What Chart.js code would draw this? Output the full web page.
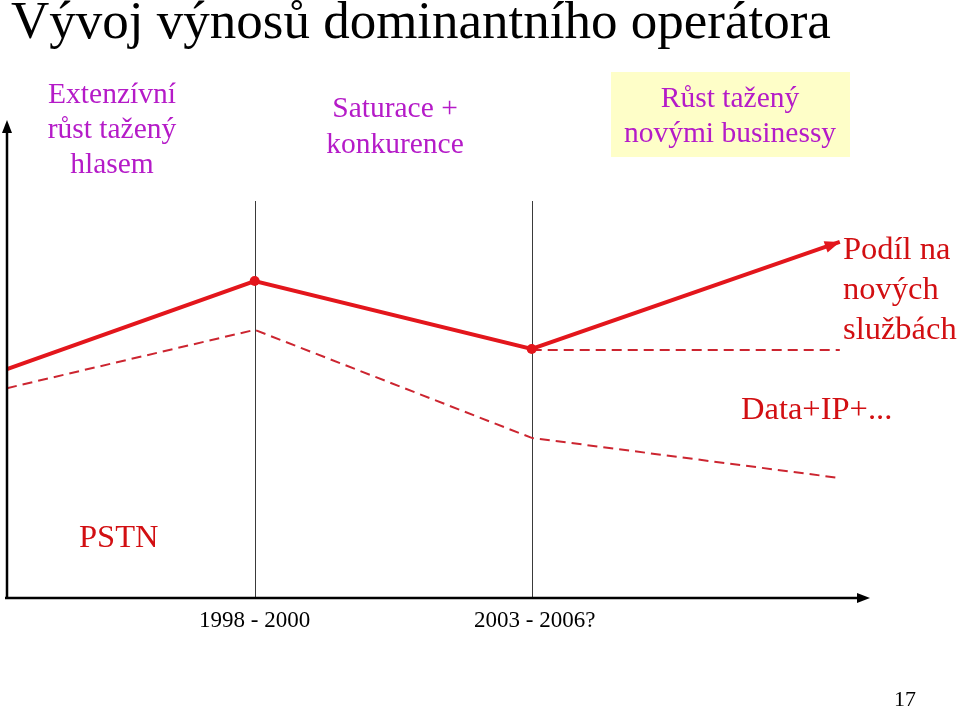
<!DOCTYPE html>
<html>
<head>
<meta charset="utf-8">
<script src="https://cdn.jsdelivr.net/npm/chart.js@4/dist/chart.umd.min.js"></script>
<style>
  html, body { margin: 0; padding: 0; background: #fff; }
  #wrap { position: relative; width: 960px; height: 708px; }
  #chart { position: absolute; left: 0; top: 0; }
</style>
</head>
<body>
<div id="wrap"><canvas id="chart" width="960" height="708"></canvas></div>
<script>
/* Vývoj výnosů dominantního operátora — sketch of revenue phases. */

// position along the time axis (0–100) and revenue index (0–100)
const timeX = [0, 28.7, 60.8, 96.5];
const periodLabels = ["", "1998 - 2000", "2003 - 2006?", ""];
const totalRevenue = [47.9, 66.3, 52.1, 74.5];
const pstnRevenue = [43.9, 56.1, 33.5, 25.1];
const flatRevenue = [null, null, 51.9, 51.9];

const SERIF = '"Liberation Serif", "Times New Roman", serif';
const RED = "#e3161c";
const TEXT_RED = "#d20f12";
const MAGENTA = "#b51bc8";

function pts(values) {
  return values.map((v, i) => ({ x: timeX[i], y: v }));
}

function arrowHead(ctx, x0, y0, x1, y1, len, half) {
  const a = Math.atan2(y1 - y0, x1 - x0);
  ctx.beginPath();
  ctx.moveTo(x1, y1);
  ctx.lineTo(x1 - len * Math.cos(a) + half * Math.sin(a), y1 - len * Math.sin(a) - half * Math.cos(a));
  ctx.lineTo(x1 - len * Math.cos(a) - half * Math.sin(a), y1 - len * Math.sin(a) + half * Math.cos(a));
  ctx.closePath();
  ctx.fill();
}

function textLines(ctx, lines, x, y, step, font, color, align) {
  ctx.font = font;
  ctx.fillStyle = color;
  ctx.textAlign = align;
  ctx.textBaseline = "alphabetic";
  lines.forEach((t, i) => ctx.fillText(t, x, y + i * step));
}

const frame = {
  id: "frame",
  beforeDatasetsDraw(chart) {
    const { ctx, chartArea: a, scales: { x } } = chart;
    ctx.save();
    // yellow note box behind the third phase
    ctx.fillStyle = "#fefec8";
    ctx.fillRect(611, 72, 239, 85);
    // phase separators
    ctx.strokeStyle = "#3a3a3a";
    ctx.lineWidth = 1;
    for (let i = 1; i < periodLabels.length; i++) {
      if (!periodLabels[i]) continue;
      const px = Math.round(x.getPixelForValue(timeX[i])) + 0.5;
      ctx.beginPath();
      ctx.moveTo(px, 201);
      ctx.lineTo(px, a.bottom);
      ctx.stroke();
    }
    ctx.restore();
  },
  afterDatasetsDraw(chart) {
    const { ctx, chartArea: a, scales: { x } } = chart;
    const meta = chart.getDatasetMeta(0).data;
    ctx.save();
    // arrow at end of total revenue line
    ctx.fillStyle = RED;
    const p0 = meta[meta.length - 2], p1 = meta[meta.length - 1];
    arrowHead(ctx, p0.x, p0.y, p1.x, p1.y, 15, 6);

    // axes
    ctx.strokeStyle = "#000";
    ctx.fillStyle = "#000";
    ctx.lineWidth = 2.5;
    ctx.beginPath();
    ctx.moveTo(a.left, a.bottom);
    ctx.lineTo(a.left, a.top + 10);
    ctx.moveTo(a.left - 2, a.bottom);
    ctx.lineTo(a.right - 10, a.bottom);
    ctx.stroke();
    arrowHead(ctx, a.left, a.bottom, a.left, a.top, 13, 5);
    arrowHead(ctx, a.left, a.bottom, a.right, a.bottom, 13, 5);

    // period tick labels
    ctx.font = "23px " + SERIF;
    ctx.fillStyle = "#000";
    ctx.textAlign = "center";
    periodLabels.forEach((l, i) => {
      if (l) ctx.fillText(l, x.getPixelForValue(timeX[i]) + (i === 2 ? 3 : 0), 627);
    });

    // title and notes
    textLines(ctx, ["Vývoj výnosů dominantního operátora"], 11, 38, 0, "53px " + SERIF, "#000", "left");
    textLines(ctx, ["Extenzívní", "růst tažený", "hlasem"], 112, 103, 35, "29.5px " + SERIF, MAGENTA, "center");
    textLines(ctx, ["Saturace +", "konkurence"], 395, 117, 36, "29.5px " + SERIF, MAGENTA, "center");
    textLines(ctx, ["Růst tažený", "novými businessy"], 730, 107, 35, "29.5px " + SERIF, MAGENTA, "center");
    textLines(ctx, ["Podíl na", "nových", "službách"], 843, 259, 40, "32.5px " + SERIF, TEXT_RED, "left");
    textLines(ctx, ["Data+IP+..."], 741, 419, 0, "32.5px " + SERIF, TEXT_RED, "left");
    textLines(ctx, ["PSTN"], 79, 547, 0, "32.5px " + SERIF, TEXT_RED, "left");
    textLines(ctx, ["17"], 905, 706, 0, "22px " + SERIF, "#000", "center");
    ctx.restore();
  }
};

new Chart(document.getElementById("chart"), {
  type: "line",
  data: {
    datasets: [
      {
        data: pts(totalRevenue),
        borderColor: RED,
        backgroundColor: RED,
        borderWidth: 4,
        pointRadius: [0, 5, 5, 0],
        pointBackgroundColor: RED,
        pointBorderWidth: 0,
        tension: 0,
        clip: false,
      },
      {
        data: pts(pstnRevenue),
        borderColor: "#cc2530",
        borderWidth: 2,
        borderDash: [10, 6],
        pointRadius: 0,
        tension: 0,
        clip: false,
      },
      {
        data: pts(flatRevenue),
        borderColor: "#cc2530",
        borderWidth: 2,
        borderDash: [10, 6],
        pointRadius: 0,
        tension: 0,
        clip: false,
      },
    ],
  },
  options: {
    responsive: false,
    animation: false,
    devicePixelRatio: 1,
    layout: { padding: { left: 7, right: 90, top: 120, bottom: 110 } },
    plugins: { legend: { display: false }, tooltip: { enabled: false }, title: { display: false } },
    scales: {
      x: { type: "linear", min: 0, max: 100, display: false },
      y: { type: "linear", min: 0, max: 100, display: false },
    },
  },
  plugins: [frame],
});
</script>
</body>
</html>
